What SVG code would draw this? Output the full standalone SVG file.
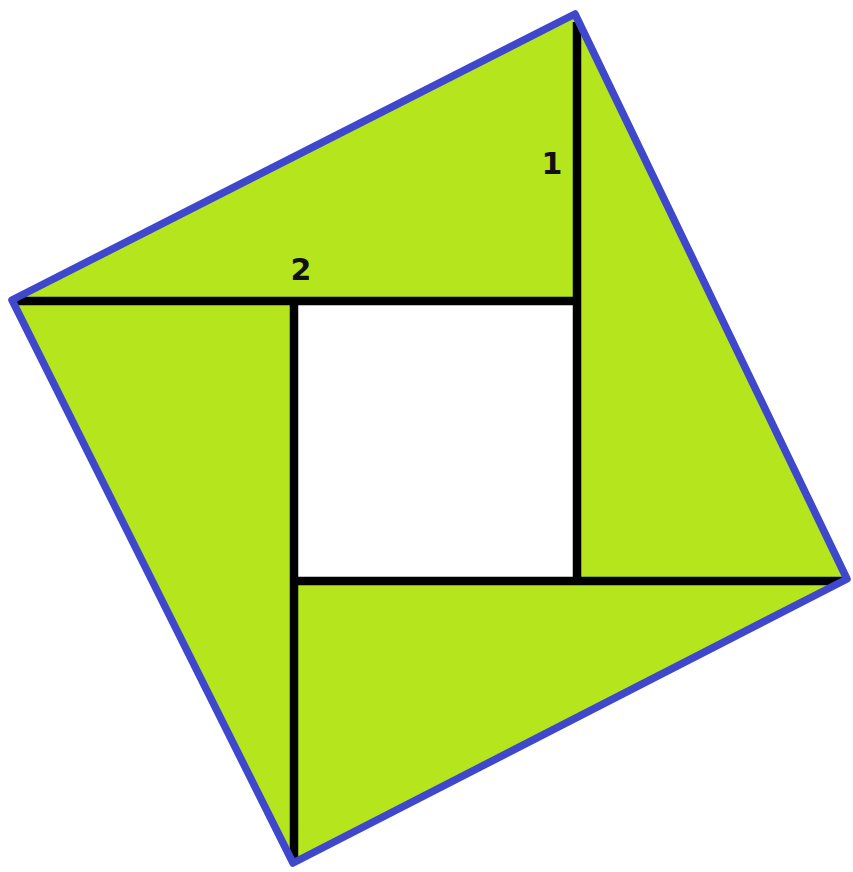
<svg xmlns="http://www.w3.org/2000/svg" width="853" height="872" viewBox="0 0 853 872">
<style>
.fill{fill:#B5E61D;stroke:none}
.edge{fill:none;stroke:#3F48CC;stroke-width:7.5;stroke-linejoin:round}
.cut{stroke:#000;stroke-width:8.5;stroke-linecap:butt;fill:none}
.lbl{font-family:"DejaVu Sans",Verdana,sans-serif;font-weight:bold;font-size:30px;fill:#111;text-anchor:middle}
</style>
<rect width="853" height="872" fill="#fff"/>
<g id="square-fill">
<polygon class="fill" points="575,14 847,579 293,863 12,300"/>
<rect x="294" y="301" width="283" height="280" fill="#fff"/>
</g>
<g id="connectors">
<line class="cut" x1="577" y1="22" x2="577" y2="585"/>
<line class="cut" x1="16" y1="301" x2="581" y2="301"/>
<line class="cut" x1="294" y1="297" x2="294" y2="858"/>
<line class="cut" x1="290" y1="581" x2="842" y2="581"/>
</g>
<g id="outline">
<polygon class="edge" points="575,14 847,579 293,863 12,300"/>
</g>
<g id="label-1"><text class="lbl" x="552" y="174">1</text></g>
<g id="label-2"><text class="lbl" x="301" y="280">2</text></g>
</svg>
